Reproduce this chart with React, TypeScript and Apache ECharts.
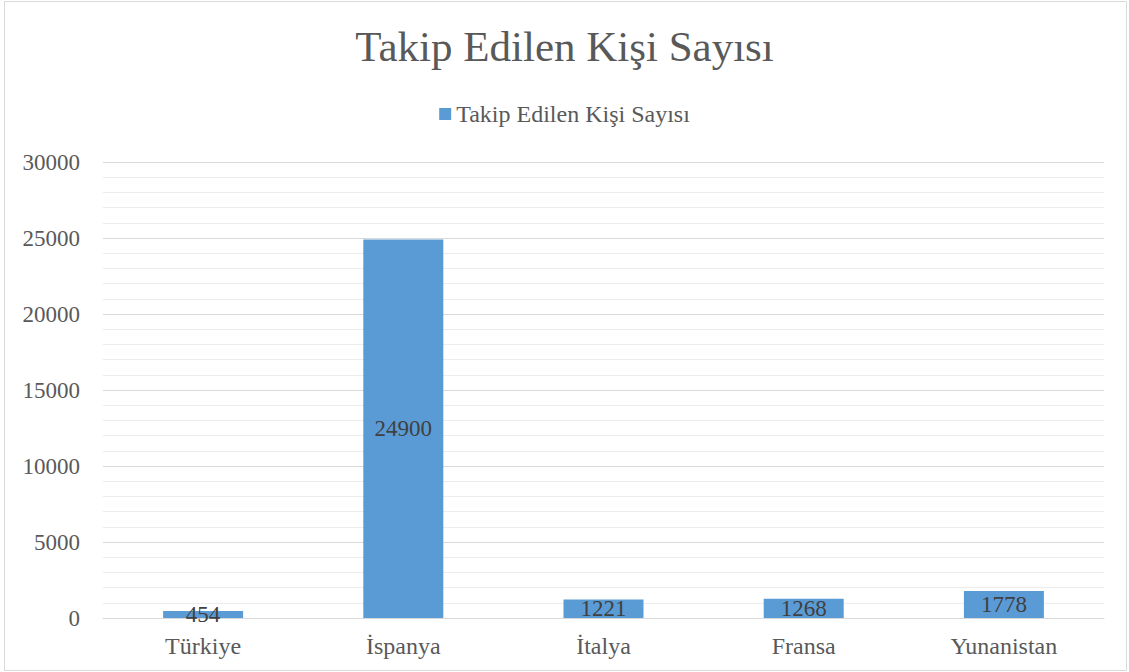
import React, { useEffect, useRef } from "react";
import * as echarts from "echarts";

const categories = ["Türkiye", "İspanya", "İtalya", "Fransa", "Yunanistan"];
const values = [454, 24900, 1221, 1268, 1778];
const seriesName = "Takip Edilen Kişi Sayısı";
const titleText = "Takip Edilen Kişi Sayısı";

export default function App() {
  const ref = useRef<HTMLDivElement>(null);
  useEffect(() => {
    document.body.style.margin = "0";
    const chart = echarts.init(ref.current!, null, { renderer: "svg" });
    const font = "'Liberation Serif', 'Times New Roman', serif";
    chart.setOption({
      animation: false,
      backgroundColor: "#ffffff",
      textStyle: { fontFamily: font },
      title: {
        text: titleText,
        left: "center",
        top: 20,
        textStyle: { fontFamily: font, fontSize: 43, fontWeight: "normal", color: "#595959" },
      },
      legend: {
        top: 97,
        left: "center",
        itemWidth: 12,
        itemHeight: 12,
        itemGap: 6,
        icon: "rect",
        textStyle: { fontFamily: font, fontSize: 24, color: "#595959" },
        data: [seriesName],
      },
      graphic: [
        {
          type: "rect",
          shape: { x: 4.5, y: 1.5, width: 1122, height: 669 },
          style: { fill: "none", stroke: "#d9d9d9", lineWidth: 1 },
        },
      ],
      grid: { left: 103, right: 25, top: 162, bottom: 54, containLabel: false },
      xAxis: {
        type: "category",
        data: categories,
        axisLine: { lineStyle: { color: "#d9d9d9", width: 1 } },
        axisTick: { show: false },
        axisLabel: { fontFamily: font, fontSize: 24, color: "#595959", margin: 16 },
      },
      yAxis: {
        type: "value",
        min: 0,
        max: 30000,
        interval: 5000,
        axisLine: { show: false },
        axisTick: { show: false },
        axisLabel: {
          fontFamily: font,
          fontSize: 23,
          color: "#595959",
          margin: 23,
          formatter: (v: number) => String(v),
        },
        splitLine: { lineStyle: { color: "#d9d9d9", width: 1 } },
        minorTick: { show: false, splitNumber: 5 },
        minorSplitLine: { show: true, lineStyle: { color: "#ececec", width: 1 } },
      },
      series: [
        {
          name: seriesName,
          type: "bar",
          data: values,
          barWidth: 80,
          itemStyle: { color: "#5b9bd5" },
          label: {
            show: true,
            position: "inside",
            fontFamily: font,
            fontSize: 23,
            color: "#404040",
          },
        },
      ],
    });
    return () => chart.dispose();
  }, []);
  return <div ref={ref} style={{ width: 1129, height: 672 }} />;
}
